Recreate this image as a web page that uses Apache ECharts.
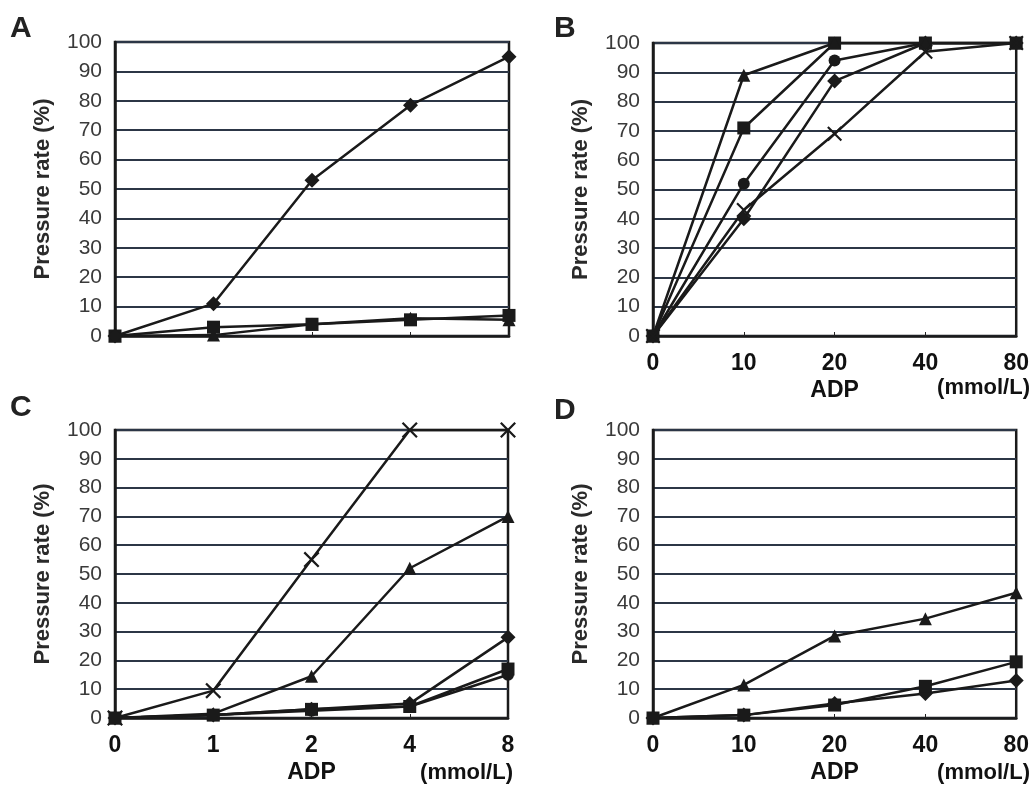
<!DOCTYPE html>
<html>
<head>
<meta charset="utf-8">
<script src="https://cdn.jsdelivr.net/npm/echarts@6/dist/echarts.min.js"></script>
<style>html,body{margin:0;padding:0;background:#fff;}#c{width:1032px;height:785px;}</style>
</head>
<body>
<div id="c"></div>
<script>
// Categories (ADP concentrations)
const catsAC = ['0', '1', '2', '4', '8'];
const catsBD = ['0', '10', '20', '40', '80'];
const yTicks = [0, 10, 20, 30, 40, 50, 60, 70, 80, 90, 100];

// Panel A
const aDiamond = [0, 11, 53, 78.5, 95];
const aSquare = [0, 3, 4, 5.5, 7];
const aTriangle = [0, 0.3, 4, 6, 5.5];

// Panel B
const bTriangle = [0, 89, 100, 100, 100];
const bSquare = [0, 71, 100, 100, 100];
const bCircle = [0, 52, 94, 100, 100];
const bDiamond = [0, 40, 87, 100, 100];
const bCross = [0, 43, 69, 97, 100];

// Panel C
const cCross = [0, 9.5, 55, 100, 100];
const cTriangle = [0, 1.5, 14.5, 52, 70];
const cDiamond = [0, 1, 3, 5, 28];
const cSquare = [0, 1, 3, 4, 17];
const cCircle = [0, 1, 2.5, 4, 15];

// Panel D
const dTriangle = [0, 11.5, 28.5, 34.5, 43.5];
const dSquare = [0, 1, 4.5, 11, 19.5];
const dDiamond = [0, 1, 5, 8.5, 13];

const chart = echarts.init(document.getElementById('c'));
const LINE = '#1a1a1a';
const GRIDC = '#2c3646';
const FONT = 'Liberation Sans, Arial, sans-serif';
const XSYM = 'path://M0,1L1,0L5,4L9,0L10,1L6,5L10,9L9,10L5,6L1,10L0,9L4,5Z';

const grids = [
  {left: 115, top: 42, width: 394, height: 294},
  {left: 653, top: 43, width: 364, height: 293},
  {left: 115, top: 430, width: 393, height: 289},
  {left: 653, top: 430, width: 364, height: 289}
].map(g => Object.assign({show: true, borderColor: '#1a1a1a', borderWidth: 2.5, containLabel: false}, g));

function xAxis(i, cats, showLabels) {
  return {
    type: 'category', gridIndex: i, data: cats, boundaryGap: false,
    axisLine: {show: true, lineStyle: {color: '#1a1a1a', width: 2.5}},
    axisTick: {show: true, inside: true, length: 4, lineStyle: {color: '#222', width: 1}},
    axisLabel: {show: showLabels, color: '#111', fontFamily: FONT, fontWeight: 'bold', fontSize: 23, margin: 16},
    name: showLabels ? 'ADP' : '', nameLocation: 'middle', nameGap: 43,
    nameTextStyle: {color: '#111', fontFamily: FONT, fontWeight: 'bold', fontSize: 23}
  };
}
function yAxis(i) {
  return {
    type: 'value', gridIndex: i, min: yTicks[0], max: yTicks[yTicks.length - 1], interval: 10,
    axisLine: {show: true, lineStyle: {color: '#1a1a1a', width: 2.5}},
    axisTick: {show: false},
    splitLine: {show: true, lineStyle: {color: GRIDC, width: 1.8}},
    axisLabel: {color: '#3a3a3a', fontFamily: FONT, fontSize: 21, margin: 13},
    name: 'Pressure rate (%)', nameLocation: 'middle', nameRotate: 90, nameGap: 61,
    nameTextStyle: {color: '#2a2a2a', fontFamily: FONT, fontWeight: 'bold', fontSize: 22}
  };
}
function line(i, data, symbol, size) {
  return {
    type: 'line', xAxisIndex: i, yAxisIndex: i, data: data,
    symbol: symbol, symbolSize: size, showAllSymbol: true,
    lineStyle: {color: LINE, width: 2.5},
    itemStyle: {color: LINE, borderColor: LINE, borderWidth: 0},
    emphasis: {disabled: true}, animation: false, z: 3
  };
}

const series = [
  line(0, aTriangle, 'triangle', 13),
  line(0, aSquare, 'rect', 13),
  line(0, aDiamond, 'diamond', 15),
  line(1, bDiamond, 'diamond', 15),
  line(1, bCircle, 'circle', 12),
  line(1, bSquare, 'rect', 13),
  line(1, bTriangle, 'triangle', 13),
  line(1, bCross, XSYM, 15),
  line(2, cCross, XSYM, 16),
  line(2, cTriangle, 'triangle', 13),
  line(2, cDiamond, 'diamond', 15),
  line(2, cCircle, 'circle', 12),
  line(2, cSquare, 'rect', 13),
  line(3, dDiamond, 'diamond', 15),
  line(3, dTriangle, 'triangle', 13),
  line(3, dSquare, 'rect', 13)
];

function letter(t, x, y) {
  return {type: 'text', left: x, top: y, style: {text: t, fill: '#222', font: 'bold 30px ' + FONT}};
}
function unit(x, y) {
  return {type: 'text', right: x, top: y, style: {text: '(mmol/L)', fill: '#111', font: 'bold 22px ' + FONT}};
}

chart.setOption({
  backgroundColor: '#fff',
  animation: false,
  grid: grids,
  xAxis: [xAxis(0, catsAC, false), xAxis(1, catsBD, true), xAxis(2, catsAC, true), xAxis(3, catsBD, true)],
  yAxis: [yAxis(0), yAxis(1), yAxis(2), yAxis(3)],
  series: series,
  graphic: [
    letter('A', 10, 14), letter('B', 554, 14), letter('C', 10, 393), letter('D', 554, 396),
    unit(2, 377), unit(519, 762), unit(2, 762)
  ]
});
</script>
</body>
</html>
